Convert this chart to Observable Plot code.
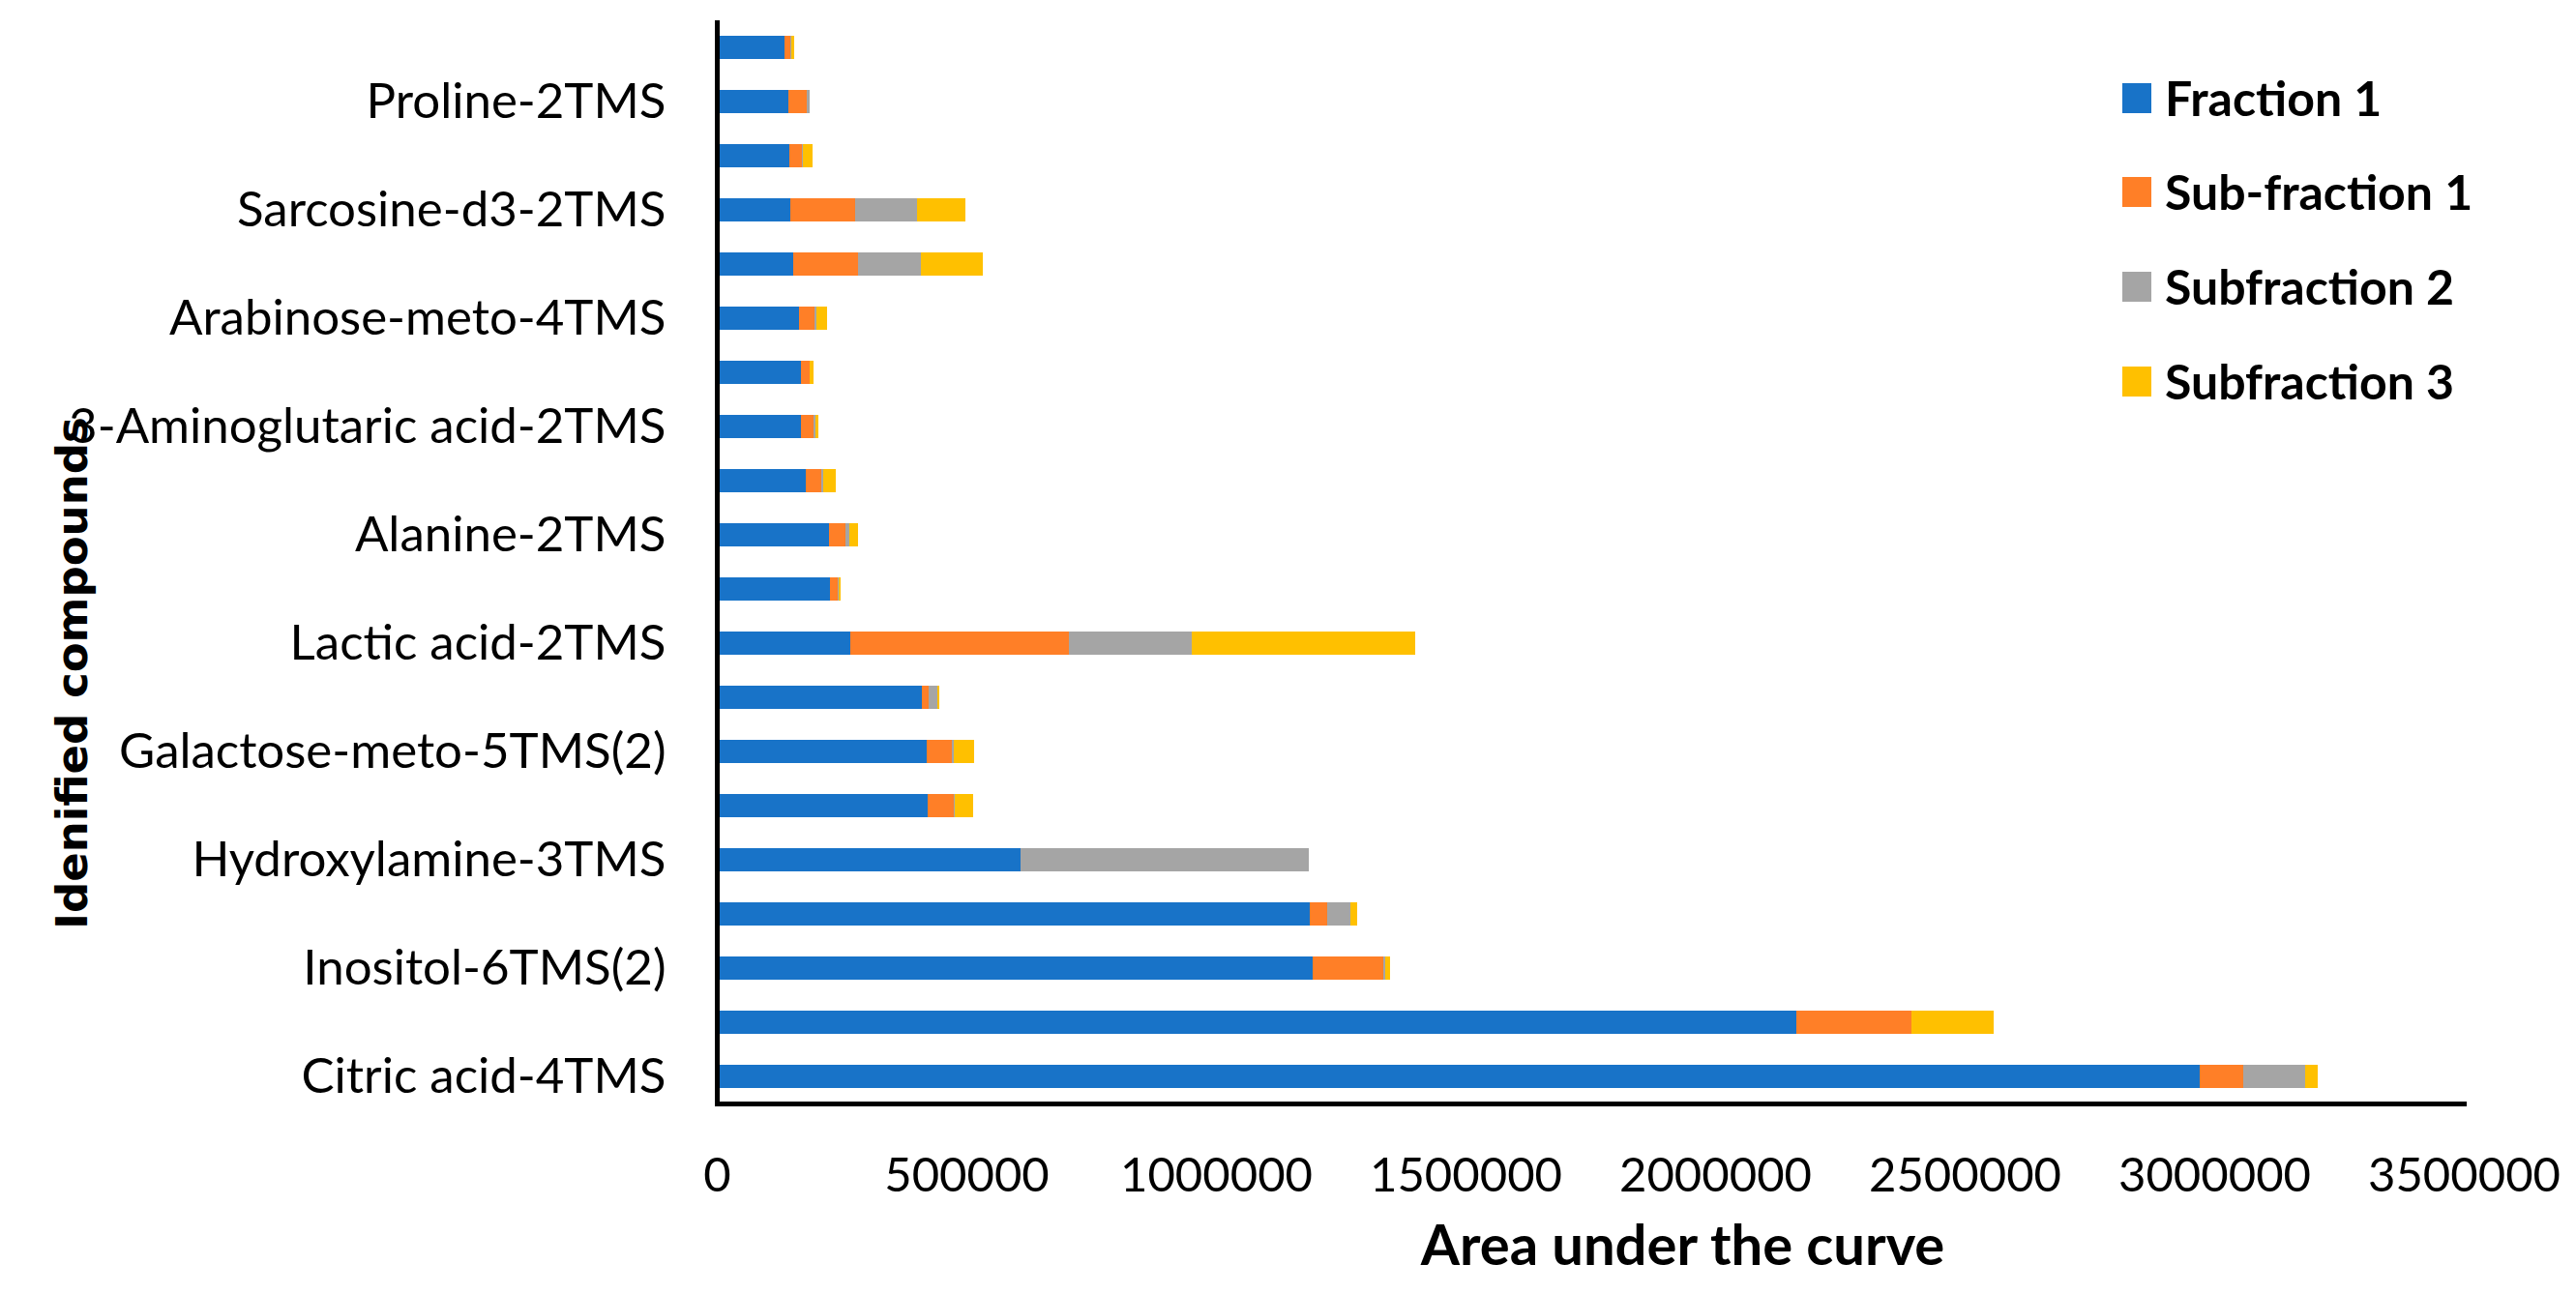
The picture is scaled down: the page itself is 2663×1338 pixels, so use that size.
<!DOCTYPE html>
<html><head><meta charset="utf-8">
<script src="https://cdn.jsdelivr.net/npm/d3@7"></script>
<script src="https://cdn.jsdelivr.net/npm/@observablehq/plot@0.6"></script>
<style>
html,body{margin:0;padding:0;background:#fff;}
#wrap{position:relative;width:2663px;height:1338px;overflow:hidden;}
#legend{position:absolute;left:2194px;top:0;font-family:Lato, "Open Sans", sans-serif;font-weight:bold;font-size:50px;color:#000;}
.item{position:absolute;left:0;display:flex;align-items:center;white-space:nowrap;height:40px;}
.sw{width:30px;height:31px;margin-right:14px;flex:none;}
#ytitle{position:absolute;left:74px;top:696px;transform:translate(-50%,-50%) rotate(-90deg);white-space:nowrap;font-family:"DejaVu Sans", sans-serif;font-weight:bold;font-size:45px;line-height:1;color:#000;}
</style></head><body><div id="wrap"><div id="legend"></div><div id="ytitle"></div></div>
<script>
// categories, bottom to top (unlabeled rows left blank as in the original)
const compounds = [
  "Citric acid-4TMS", "", "Inositol-6TMS(2)", "", "Hydroxylamine-3TMS", "",
  "Galactose-meto-5TMS(2)", "", "Lactic acid-2TMS", "", "Alanine-2TMS", "",
  "3-Aminoglutaric acid-2TMS", "", "Arabinose-meto-4TMS", "", "Sarcosine-d3-2TMS", "",
  "Proline-2TMS", ""
];
const fraction1    = [2970000, 2162000, 1194000, 1188000, 609000, 423000, 421000, 411000, 267500, 226500, 225000, 178500, 168500, 168500, 164500, 153000, 147500, 145500, 143500, 135500];
const subFraction1 = [88000, 231000, 142000, 35000, 0, 51000, 50000, 13500, 437500, 15500, 33000, 31000, 25000, 17500, 31000, 130000, 130000, 25000, 36500, 12500];
const subfraction2 = [125000, 0, 3000, 46000, 577000, 2000, 4000, 17500, 247000, 2000, 7500, 4000, 4000, 0, 4000, 126000, 124000, 2000, 6000, 1000];
const subfraction3 = [25000, 165000, 10000, 14000, 0, 37000, 41000, 4000, 447000, 4000, 17500, 25000, 6000, 8000, 21000, 124000, 97000, 19500, 0, 6000];
const seriesNames = ["Fraction 1", "Sub-fraction 1", "Subfraction 2", "Subfraction 3"];
const seriesColors = ["#1873c8", "#ff7f27", "#a5a5a5", "#ffc000"];
const xTicks = [0, 500000, 1000000, 1500000, 2000000, 2500000, 3000000, 3500000];
const xTitle = "Area under the curve";
const yTitle = "Idenified compounds";

const seriesValues = [fraction1, subFraction1, subfraction2, subfraction3];
const table = [];
compounds.forEach((c, i) => {
  seriesValues.forEach((arr, s) => table.push({key: i, series: seriesNames[s], value: arr[i]}));
});
const yDomain = d3.range(compounds.length).reverse();

const chart = Plot.plot({
  width: 2663, height: 1338,
  marginTop: 21, marginBottom: 197, marginLeft: 741, marginRight: 116,
  style: {fontFamily: "Lato, 'Open Sans', sans-serif", background: "white", color: "black"},
  x: {domain: [0, 3500000]},
  y: {domain: yDomain, paddingInner: 0.57, paddingOuter: 0.285},
  color: {domain: seriesNames, range: seriesColors},
  marks: [
    Plot.barX(table, {y: "key", x: "value", fill: "series", order: seriesNames, shapeRendering: "crispEdges"}),
    Plot.axisY({ticks: yDomain, tickFormat: i => compounds[i], tickSize: 0, tickPadding: 53, fontSize: 51, label: null}),
    Plot.axisX({ticks: xTicks, tickFormat: d3.format("d"), tickSize: 0, tickPadding: 56, fontSize: 49, label: null}),
    Plot.ruleX([0], {stroke: "black", strokeWidth: 5}),
    Plot.frame({anchor: "bottom", stroke: "black", strokeWidth: 5}),
    Plot.text([xTitle], {frameAnchor: "bottom", dx: 95, dy: 148, fontSize: 58, fontWeight: "bold", lineAnchor: "middle", fill: "black"})
  ]
});
document.getElementById("wrap").prepend(chart);
document.getElementById("ytitle").textContent = yTitle;

const legend = document.getElementById("legend");
const centers = [101, 198, 296, 394];
seriesNames.forEach((name, i) => {
  const item = document.createElement("div");
  item.className = "item";
  item.style.top = (centers[i] - 20) + "px";
  const sw = document.createElement("div");
  sw.className = "sw";
  sw.style.background = seriesColors[i];
  const label = document.createElement("span");
  label.textContent = name;
  item.append(sw, label);
  legend.append(item);
});
</script>
</body></html>
